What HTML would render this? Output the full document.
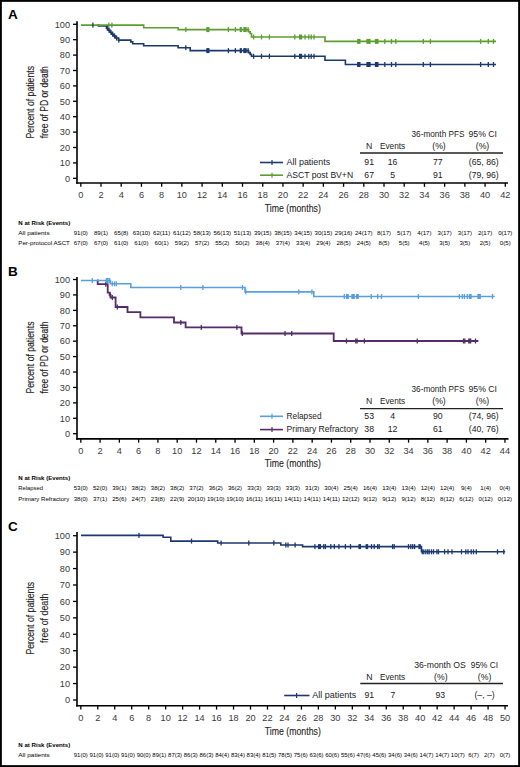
<!DOCTYPE html>
<html><head><meta charset="utf-8"><title>KM curves</title>
<style>
html,body{margin:0;padding:0;background:#fff;}
body{width:520px;height:767px;overflow:hidden;}
svg{display:block;font-family:"Liberation Sans", sans-serif;}
</style></head>
<body>
<svg width="520" height="767" viewBox="0 0 520 767">
<rect x="0" y="0" width="520" height="767" fill="#fff"/>
<text x="7.90" y="19.00" font-size="13.5" text-anchor="start" font-weight="bold" fill="#000">A</text>
<line x1="77.00" y1="21.20" x2="77.00" y2="183.80" stroke="#000" stroke-width="1.6"/>
<line x1="76.20" y1="183.00" x2="508.00" y2="183.00" stroke="#000" stroke-width="1.6"/>
<line x1="73.00" y1="178.30" x2="77.00" y2="178.30" stroke="#000" stroke-width="1.3"/>
<text x="70.00" y="181.60" font-size="9.2" text-anchor="end" fill="#3a3a3a">0</text>
<line x1="73.00" y1="162.90" x2="77.00" y2="162.90" stroke="#000" stroke-width="1.3"/>
<text x="70.00" y="166.20" font-size="9.2" text-anchor="end" fill="#3a3a3a">10</text>
<line x1="73.00" y1="147.50" x2="77.00" y2="147.50" stroke="#000" stroke-width="1.3"/>
<text x="70.00" y="150.80" font-size="9.2" text-anchor="end" fill="#3a3a3a">20</text>
<line x1="73.00" y1="132.10" x2="77.00" y2="132.10" stroke="#000" stroke-width="1.3"/>
<text x="70.00" y="135.40" font-size="9.2" text-anchor="end" fill="#3a3a3a">30</text>
<line x1="73.00" y1="116.70" x2="77.00" y2="116.70" stroke="#000" stroke-width="1.3"/>
<text x="70.00" y="120.00" font-size="9.2" text-anchor="end" fill="#3a3a3a">40</text>
<line x1="73.00" y1="101.30" x2="77.00" y2="101.30" stroke="#000" stroke-width="1.3"/>
<text x="70.00" y="104.60" font-size="9.2" text-anchor="end" fill="#3a3a3a">50</text>
<line x1="73.00" y1="85.90" x2="77.00" y2="85.90" stroke="#000" stroke-width="1.3"/>
<text x="70.00" y="89.20" font-size="9.2" text-anchor="end" fill="#3a3a3a">60</text>
<line x1="73.00" y1="70.50" x2="77.00" y2="70.50" stroke="#000" stroke-width="1.3"/>
<text x="70.00" y="73.80" font-size="9.2" text-anchor="end" fill="#3a3a3a">70</text>
<line x1="73.00" y1="55.10" x2="77.00" y2="55.10" stroke="#000" stroke-width="1.3"/>
<text x="70.00" y="58.40" font-size="9.2" text-anchor="end" fill="#3a3a3a">80</text>
<line x1="73.00" y1="39.70" x2="77.00" y2="39.70" stroke="#000" stroke-width="1.3"/>
<text x="70.00" y="43.00" font-size="9.2" text-anchor="end" fill="#3a3a3a">90</text>
<line x1="73.00" y1="24.30" x2="77.00" y2="24.30" stroke="#000" stroke-width="1.3"/>
<text x="70.00" y="27.60" font-size="9.2" text-anchor="end" fill="#3a3a3a">100</text>
<line x1="80.80" y1="183.00" x2="80.80" y2="186.80" stroke="#000" stroke-width="1.3"/>
<text x="80.80" y="198.20" font-size="9.2" text-anchor="middle" fill="#3a3a3a">0</text>
<line x1="101.01" y1="183.00" x2="101.01" y2="186.80" stroke="#000" stroke-width="1.3"/>
<text x="101.01" y="198.20" font-size="9.2" text-anchor="middle" fill="#3a3a3a">2</text>
<line x1="121.23" y1="183.00" x2="121.23" y2="186.80" stroke="#000" stroke-width="1.3"/>
<text x="121.23" y="198.20" font-size="9.2" text-anchor="middle" fill="#3a3a3a">4</text>
<line x1="141.44" y1="183.00" x2="141.44" y2="186.80" stroke="#000" stroke-width="1.3"/>
<text x="141.44" y="198.20" font-size="9.2" text-anchor="middle" fill="#3a3a3a">6</text>
<line x1="161.66" y1="183.00" x2="161.66" y2="186.80" stroke="#000" stroke-width="1.3"/>
<text x="161.66" y="198.20" font-size="9.2" text-anchor="middle" fill="#3a3a3a">8</text>
<line x1="181.87" y1="183.00" x2="181.87" y2="186.80" stroke="#000" stroke-width="1.3"/>
<text x="181.87" y="198.20" font-size="9.2" text-anchor="middle" fill="#3a3a3a">10</text>
<line x1="202.08" y1="183.00" x2="202.08" y2="186.80" stroke="#000" stroke-width="1.3"/>
<text x="202.08" y="198.20" font-size="9.2" text-anchor="middle" fill="#3a3a3a">12</text>
<line x1="222.30" y1="183.00" x2="222.30" y2="186.80" stroke="#000" stroke-width="1.3"/>
<text x="222.30" y="198.20" font-size="9.2" text-anchor="middle" fill="#3a3a3a">14</text>
<line x1="242.51" y1="183.00" x2="242.51" y2="186.80" stroke="#000" stroke-width="1.3"/>
<text x="242.51" y="198.20" font-size="9.2" text-anchor="middle" fill="#3a3a3a">16</text>
<line x1="262.73" y1="183.00" x2="262.73" y2="186.80" stroke="#000" stroke-width="1.3"/>
<text x="262.73" y="198.20" font-size="9.2" text-anchor="middle" fill="#3a3a3a">18</text>
<line x1="282.94" y1="183.00" x2="282.94" y2="186.80" stroke="#000" stroke-width="1.3"/>
<text x="282.94" y="198.20" font-size="9.2" text-anchor="middle" fill="#3a3a3a">20</text>
<line x1="303.15" y1="183.00" x2="303.15" y2="186.80" stroke="#000" stroke-width="1.3"/>
<text x="303.15" y="198.20" font-size="9.2" text-anchor="middle" fill="#3a3a3a">22</text>
<line x1="323.37" y1="183.00" x2="323.37" y2="186.80" stroke="#000" stroke-width="1.3"/>
<text x="323.37" y="198.20" font-size="9.2" text-anchor="middle" fill="#3a3a3a">24</text>
<line x1="343.58" y1="183.00" x2="343.58" y2="186.80" stroke="#000" stroke-width="1.3"/>
<text x="343.58" y="198.20" font-size="9.2" text-anchor="middle" fill="#3a3a3a">26</text>
<line x1="363.80" y1="183.00" x2="363.80" y2="186.80" stroke="#000" stroke-width="1.3"/>
<text x="363.80" y="198.20" font-size="9.2" text-anchor="middle" fill="#3a3a3a">28</text>
<line x1="384.01" y1="183.00" x2="384.01" y2="186.80" stroke="#000" stroke-width="1.3"/>
<text x="384.01" y="198.20" font-size="9.2" text-anchor="middle" fill="#3a3a3a">30</text>
<line x1="404.22" y1="183.00" x2="404.22" y2="186.80" stroke="#000" stroke-width="1.3"/>
<text x="404.22" y="198.20" font-size="9.2" text-anchor="middle" fill="#3a3a3a">32</text>
<line x1="424.44" y1="183.00" x2="424.44" y2="186.80" stroke="#000" stroke-width="1.3"/>
<text x="424.44" y="198.20" font-size="9.2" text-anchor="middle" fill="#3a3a3a">34</text>
<line x1="444.65" y1="183.00" x2="444.65" y2="186.80" stroke="#000" stroke-width="1.3"/>
<text x="444.65" y="198.20" font-size="9.2" text-anchor="middle" fill="#3a3a3a">36</text>
<line x1="464.87" y1="183.00" x2="464.87" y2="186.80" stroke="#000" stroke-width="1.3"/>
<text x="464.87" y="198.20" font-size="9.2" text-anchor="middle" fill="#3a3a3a">38</text>
<line x1="485.08" y1="183.00" x2="485.08" y2="186.80" stroke="#000" stroke-width="1.3"/>
<text x="485.08" y="198.20" font-size="9.2" text-anchor="middle" fill="#3a3a3a">40</text>
<line x1="505.29" y1="183.00" x2="505.29" y2="186.80" stroke="#000" stroke-width="1.3"/>
<text x="505.29" y="198.20" font-size="9.2" text-anchor="middle" fill="#3a3a3a">42</text>
<text x="292.80" y="212.40" font-size="10.7" text-anchor="middle" fill="#222" textLength="56" lengthAdjust="spacingAndGlyphs" stroke="#333" stroke-width="0.12">Time (months)</text>
<text transform="translate(34.4,102.2) rotate(-90)" font-size="11" text-anchor="middle" fill="#222" stroke="#222" stroke-width="0.12" textLength="72.5" lengthAdjust="spacingAndGlyphs">Percent of patients</text>
<text transform="translate(48,102.2) rotate(-90)" font-size="11" text-anchor="middle" fill="#222" stroke="#222" stroke-width="0.12" textLength="72.0" lengthAdjust="spacingAndGlyphs">free of PD or death</text>
<path d="M97.50,25.10 H98.50 V25.90 H106.50 V28.20 H108.20 V30.30 H110.00 V32.20 H111.80 V34.20 H113.60 V36.00 H115.60 V38.00 H118.40 V40.10 H130.80 V41.90 H132.70 V43.80 H143.70 V45.80 H178.10 V47.70 H190.20 V50.60 H248.60 V52.60 H250.20 V54.40 H251.50 V56.30 H325.00 V60.20 H345.40 V64.50 H496.00" fill="none" stroke="#1b386f" stroke-width="1.6" stroke-linejoin="miter" stroke-linecap="butt"/>
<path d="M81.00,25.10 H143.70 V27.80 H178.10 V29.60 H248.60 V31.70 H250.20 V33.50 H251.50 V37.00 H325.00 V41.40 H496.00" fill="none" stroke="#5c9e31" stroke-width="1.6" stroke-linejoin="miter" stroke-linecap="butt"/>
<rect x="92.25" y="22.60" width="1.30" height="5.00" fill="#1b386f"/>
<rect x="106.65" y="25.70" width="1.30" height="5.00" fill="#1b386f"/>
<rect x="108.45" y="27.80" width="1.30" height="5.00" fill="#1b386f"/>
<rect x="110.25" y="29.70" width="1.30" height="5.00" fill="#1b386f"/>
<rect x="112.05" y="31.70" width="1.30" height="5.00" fill="#1b386f"/>
<rect x="113.95" y="33.50" width="1.30" height="5.00" fill="#1b386f"/>
<rect x="115.95" y="35.50" width="1.30" height="5.00" fill="#1b386f"/>
<rect x="118.15" y="37.60" width="1.30" height="5.00" fill="#1b386f"/>
<rect x="185.15" y="45.20" width="1.30" height="5.00" fill="#1b386f"/>
<rect x="206.30" y="48.10" width="3.20" height="5.00" fill="#1b386f"/>
<rect x="227.75" y="48.10" width="1.30" height="5.00" fill="#1b386f"/>
<rect x="234.75" y="48.10" width="1.30" height="5.00" fill="#1b386f"/>
<rect x="239.70" y="48.10" width="2.20" height="5.00" fill="#1b386f"/>
<rect x="243.30" y="48.10" width="3.40" height="5.00" fill="#1b386f"/>
<rect x="247.45" y="48.10" width="1.30" height="5.00" fill="#1b386f"/>
<rect x="252.95" y="53.80" width="1.30" height="5.00" fill="#1b386f"/>
<rect x="260.85" y="53.80" width="1.30" height="5.00" fill="#1b386f"/>
<rect x="268.75" y="53.80" width="1.30" height="5.00" fill="#1b386f"/>
<rect x="294.15" y="53.80" width="1.30" height="5.00" fill="#1b386f"/>
<rect x="299.00" y="53.80" width="3.20" height="5.00" fill="#1b386f"/>
<rect x="304.35" y="53.80" width="1.30" height="5.00" fill="#1b386f"/>
<rect x="308.15" y="53.80" width="1.30" height="5.00" fill="#1b386f"/>
<rect x="310.55" y="53.80" width="1.30" height="5.00" fill="#1b386f"/>
<rect x="313.35" y="53.80" width="1.30" height="5.00" fill="#1b386f"/>
<rect x="357.10" y="62.00" width="3.40" height="5.00" fill="#1b386f"/>
<rect x="366.40" y="62.00" width="4.20" height="5.00" fill="#1b386f"/>
<rect x="374.90" y="62.00" width="3.60" height="5.00" fill="#1b386f"/>
<rect x="384.15" y="62.00" width="1.30" height="5.00" fill="#1b386f"/>
<rect x="390.85" y="62.00" width="1.30" height="5.00" fill="#1b386f"/>
<rect x="395.15" y="62.00" width="1.30" height="5.00" fill="#1b386f"/>
<rect x="422.65" y="62.00" width="1.30" height="5.00" fill="#1b386f"/>
<rect x="429.75" y="62.00" width="1.30" height="5.00" fill="#1b386f"/>
<rect x="479.95" y="62.00" width="1.30" height="5.00" fill="#1b386f"/>
<rect x="487.65" y="62.00" width="1.30" height="5.00" fill="#1b386f"/>
<rect x="492.85" y="62.00" width="1.30" height="5.00" fill="#1b386f"/>
<rect x="108.15" y="22.60" width="1.30" height="5.00" fill="#5c9e31"/>
<rect x="111.25" y="22.60" width="1.30" height="5.00" fill="#5c9e31"/>
<rect x="185.15" y="27.10" width="1.30" height="5.00" fill="#5c9e31"/>
<rect x="206.30" y="27.10" width="3.20" height="5.00" fill="#5c9e31"/>
<rect x="227.75" y="27.10" width="1.30" height="5.00" fill="#5c9e31"/>
<rect x="234.75" y="27.10" width="1.30" height="5.00" fill="#5c9e31"/>
<rect x="239.70" y="27.10" width="2.20" height="5.00" fill="#5c9e31"/>
<rect x="243.30" y="27.10" width="3.40" height="5.00" fill="#5c9e31"/>
<rect x="247.45" y="27.10" width="1.30" height="5.00" fill="#5c9e31"/>
<rect x="252.95" y="34.50" width="1.30" height="5.00" fill="#5c9e31"/>
<rect x="260.85" y="34.50" width="1.30" height="5.00" fill="#5c9e31"/>
<rect x="268.75" y="34.50" width="1.30" height="5.00" fill="#5c9e31"/>
<rect x="294.15" y="34.50" width="1.30" height="5.00" fill="#5c9e31"/>
<rect x="299.00" y="34.50" width="3.20" height="5.00" fill="#5c9e31"/>
<rect x="304.35" y="34.50" width="1.30" height="5.00" fill="#5c9e31"/>
<rect x="308.15" y="34.50" width="1.30" height="5.00" fill="#5c9e31"/>
<rect x="310.55" y="34.50" width="1.30" height="5.00" fill="#5c9e31"/>
<rect x="313.35" y="34.50" width="1.30" height="5.00" fill="#5c9e31"/>
<rect x="357.10" y="38.90" width="3.40" height="5.00" fill="#5c9e31"/>
<rect x="366.40" y="38.90" width="4.20" height="5.00" fill="#5c9e31"/>
<rect x="374.90" y="38.90" width="3.60" height="5.00" fill="#5c9e31"/>
<rect x="384.15" y="38.90" width="1.30" height="5.00" fill="#5c9e31"/>
<rect x="390.85" y="38.90" width="1.30" height="5.00" fill="#5c9e31"/>
<rect x="395.15" y="38.90" width="1.30" height="5.00" fill="#5c9e31"/>
<rect x="422.65" y="38.90" width="1.30" height="5.00" fill="#5c9e31"/>
<rect x="429.75" y="38.90" width="1.30" height="5.00" fill="#5c9e31"/>
<rect x="479.95" y="38.90" width="1.30" height="5.00" fill="#5c9e31"/>
<rect x="487.65" y="38.90" width="1.30" height="5.00" fill="#5c9e31"/>
<rect x="492.85" y="38.90" width="1.30" height="5.00" fill="#5c9e31"/>
<text x="411.50" y="136.50" font-size="8.7" text-anchor="start" fill="#222" textLength="53" lengthAdjust="spacingAndGlyphs">36-month PFS</text>
<text x="468.50" y="136.50" font-size="8.7" text-anchor="start" fill="#222" textLength="28.5" lengthAdjust="spacingAndGlyphs">95% CI</text>
<text x="369.20" y="148.70" font-size="8.7" text-anchor="middle" fill="#222">N</text>
<text x="392.60" y="148.70" font-size="8.7" text-anchor="middle" fill="#222" textLength="25.2" lengthAdjust="spacingAndGlyphs">Events</text>
<text x="439.00" y="148.70" font-size="8.7" text-anchor="middle" fill="#222">(%)</text>
<text x="482.50" y="148.70" font-size="8.7" text-anchor="middle" fill="#222">(%)</text>
<line x1="360.00" y1="153.00" x2="503.00" y2="153.00" stroke="#222" stroke-width="1.3"/>
<line x1="260.00" y1="162.50" x2="283.00" y2="162.50" stroke="#1b386f" stroke-width="1.6"/>
<line x1="272.00" y1="160.00" x2="272.00" y2="165.00" stroke="#1b386f" stroke-width="1.2"/>
<text x="286.60" y="165.30" font-size="8.7" text-anchor="start" fill="#222" textLength="43.5" lengthAdjust="spacingAndGlyphs">All patients</text>
<text x="369.20" y="165.30" font-size="8.7" text-anchor="middle" fill="#222">91</text>
<text x="392.60" y="165.30" font-size="8.7" text-anchor="middle" fill="#222">16</text>
<text x="437.80" y="165.30" font-size="8.7" text-anchor="middle" fill="#222">77</text>
<text x="483.80" y="165.30" font-size="8.7" text-anchor="middle" fill="#222">(65, 86)</text>
<line x1="260.00" y1="175.20" x2="283.00" y2="175.20" stroke="#5c9e31" stroke-width="1.6"/>
<line x1="272.00" y1="172.70" x2="272.00" y2="177.70" stroke="#5c9e31" stroke-width="1.2"/>
<text x="286.60" y="178.00" font-size="8.7" text-anchor="start" fill="#222" textLength="66.5" lengthAdjust="spacingAndGlyphs">ASCT post BV+N</text>
<text x="369.20" y="178.00" font-size="8.7" text-anchor="middle" fill="#222">67</text>
<text x="392.60" y="178.00" font-size="8.7" text-anchor="middle" fill="#222">5</text>
<text x="437.80" y="178.00" font-size="8.7" text-anchor="middle" fill="#222">91</text>
<text x="483.80" y="178.00" font-size="8.7" text-anchor="middle" fill="#222">(79, 96)</text>
<text x="18.30" y="224.70" font-size="6.1" text-anchor="start" font-weight="bold" fill="#000" textLength="52" lengthAdjust="spacingAndGlyphs">N at Risk (Events)</text>
<text x="18.30" y="234.80" font-size="6.1" text-anchor="start" fill="#000" textLength="31.3" lengthAdjust="spacingAndGlyphs">All patients</text>
<text x="80.80" y="234.80" font-size="6.1" text-anchor="middle" fill="#000">91(0)</text>
<text x="101.01" y="234.80" font-size="6.1" text-anchor="middle" fill="#000">89(1)</text>
<text x="121.23" y="234.80" font-size="6.1" text-anchor="middle" fill="#000">65(8)</text>
<text x="141.44" y="234.80" font-size="6.1" text-anchor="middle" fill="#000">63(10)</text>
<text x="161.66" y="234.80" font-size="6.1" text-anchor="middle" fill="#000">62(11)</text>
<text x="181.87" y="234.80" font-size="6.1" text-anchor="middle" fill="#000">61(12)</text>
<text x="202.08" y="234.80" font-size="6.1" text-anchor="middle" fill="#000">58(13)</text>
<text x="222.30" y="234.80" font-size="6.1" text-anchor="middle" fill="#000">56(13)</text>
<text x="242.51" y="234.80" font-size="6.1" text-anchor="middle" fill="#000">51(13)</text>
<text x="262.73" y="234.80" font-size="6.1" text-anchor="middle" fill="#000">39(15)</text>
<text x="282.94" y="234.80" font-size="6.1" text-anchor="middle" fill="#000">38(15)</text>
<text x="303.15" y="234.80" font-size="6.1" text-anchor="middle" fill="#000">34(15)</text>
<text x="323.37" y="234.80" font-size="6.1" text-anchor="middle" fill="#000">30(15)</text>
<text x="343.58" y="234.80" font-size="6.1" text-anchor="middle" fill="#000">29(16)</text>
<text x="363.80" y="234.80" font-size="6.1" text-anchor="middle" fill="#000">24(17)</text>
<text x="384.01" y="234.80" font-size="6.1" text-anchor="middle" fill="#000">8(17)</text>
<text x="404.22" y="234.80" font-size="6.1" text-anchor="middle" fill="#000">5(17)</text>
<text x="424.44" y="234.80" font-size="6.1" text-anchor="middle" fill="#000">4(17)</text>
<text x="444.65" y="234.80" font-size="6.1" text-anchor="middle" fill="#000">3(17)</text>
<text x="464.87" y="234.80" font-size="6.1" text-anchor="middle" fill="#000">3(17)</text>
<text x="485.08" y="234.80" font-size="6.1" text-anchor="middle" fill="#000">2(17)</text>
<text x="505.29" y="234.80" font-size="6.1" text-anchor="middle" fill="#000">0(17)</text>
<text x="18.30" y="244.90" font-size="6.1" text-anchor="start" fill="#000" textLength="51.6" lengthAdjust="spacingAndGlyphs">Per-protocol ASCT</text>
<text x="80.80" y="244.90" font-size="6.1" text-anchor="middle" fill="#000">67(0)</text>
<text x="101.01" y="244.90" font-size="6.1" text-anchor="middle" fill="#000">67(0)</text>
<text x="121.23" y="244.90" font-size="6.1" text-anchor="middle" fill="#000">61(0)</text>
<text x="141.44" y="244.90" font-size="6.1" text-anchor="middle" fill="#000">61(0)</text>
<text x="161.66" y="244.90" font-size="6.1" text-anchor="middle" fill="#000">60(1)</text>
<text x="181.87" y="244.90" font-size="6.1" text-anchor="middle" fill="#000">59(2)</text>
<text x="202.08" y="244.90" font-size="6.1" text-anchor="middle" fill="#000">57(2)</text>
<text x="222.30" y="244.90" font-size="6.1" text-anchor="middle" fill="#000">55(2)</text>
<text x="242.51" y="244.90" font-size="6.1" text-anchor="middle" fill="#000">50(2)</text>
<text x="262.73" y="244.90" font-size="6.1" text-anchor="middle" fill="#000">38(4)</text>
<text x="282.94" y="244.90" font-size="6.1" text-anchor="middle" fill="#000">37(4)</text>
<text x="303.15" y="244.90" font-size="6.1" text-anchor="middle" fill="#000">33(4)</text>
<text x="323.37" y="244.90" font-size="6.1" text-anchor="middle" fill="#000">29(4)</text>
<text x="343.58" y="244.90" font-size="6.1" text-anchor="middle" fill="#000">28(5)</text>
<text x="363.80" y="244.90" font-size="6.1" text-anchor="middle" fill="#000">24(5)</text>
<text x="384.01" y="244.90" font-size="6.1" text-anchor="middle" fill="#000">8(5)</text>
<text x="404.22" y="244.90" font-size="6.1" text-anchor="middle" fill="#000">5(5)</text>
<text x="424.44" y="244.90" font-size="6.1" text-anchor="middle" fill="#000">4(5)</text>
<text x="444.65" y="244.90" font-size="6.1" text-anchor="middle" fill="#000">3(5)</text>
<text x="464.87" y="244.90" font-size="6.1" text-anchor="middle" fill="#000">3(5)</text>
<text x="485.08" y="244.90" font-size="6.1" text-anchor="middle" fill="#000">2(5)</text>
<text x="505.29" y="244.90" font-size="6.1" text-anchor="middle" fill="#000">0(5)</text>
<text x="8.00" y="275.60" font-size="13.5" text-anchor="start" font-weight="bold" fill="#000">B</text>
<line x1="77.00" y1="277.00" x2="77.00" y2="439.70" stroke="#000" stroke-width="1.6"/>
<line x1="76.20" y1="438.90" x2="508.50" y2="438.90" stroke="#000" stroke-width="1.6"/>
<line x1="73.00" y1="433.70" x2="77.00" y2="433.70" stroke="#000" stroke-width="1.3"/>
<text x="70.00" y="437.00" font-size="9.2" text-anchor="end" fill="#3a3a3a">0</text>
<line x1="73.00" y1="418.28" x2="77.00" y2="418.28" stroke="#000" stroke-width="1.3"/>
<text x="70.00" y="421.58" font-size="9.2" text-anchor="end" fill="#3a3a3a">10</text>
<line x1="73.00" y1="402.86" x2="77.00" y2="402.86" stroke="#000" stroke-width="1.3"/>
<text x="70.00" y="406.16" font-size="9.2" text-anchor="end" fill="#3a3a3a">20</text>
<line x1="73.00" y1="387.44" x2="77.00" y2="387.44" stroke="#000" stroke-width="1.3"/>
<text x="70.00" y="390.74" font-size="9.2" text-anchor="end" fill="#3a3a3a">30</text>
<line x1="73.00" y1="372.02" x2="77.00" y2="372.02" stroke="#000" stroke-width="1.3"/>
<text x="70.00" y="375.32" font-size="9.2" text-anchor="end" fill="#3a3a3a">40</text>
<line x1="73.00" y1="356.60" x2="77.00" y2="356.60" stroke="#000" stroke-width="1.3"/>
<text x="70.00" y="359.90" font-size="9.2" text-anchor="end" fill="#3a3a3a">50</text>
<line x1="73.00" y1="341.18" x2="77.00" y2="341.18" stroke="#000" stroke-width="1.3"/>
<text x="70.00" y="344.48" font-size="9.2" text-anchor="end" fill="#3a3a3a">60</text>
<line x1="73.00" y1="325.76" x2="77.00" y2="325.76" stroke="#000" stroke-width="1.3"/>
<text x="70.00" y="329.06" font-size="9.2" text-anchor="end" fill="#3a3a3a">70</text>
<line x1="73.00" y1="310.34" x2="77.00" y2="310.34" stroke="#000" stroke-width="1.3"/>
<text x="70.00" y="313.64" font-size="9.2" text-anchor="end" fill="#3a3a3a">80</text>
<line x1="73.00" y1="294.92" x2="77.00" y2="294.92" stroke="#000" stroke-width="1.3"/>
<text x="70.00" y="298.22" font-size="9.2" text-anchor="end" fill="#3a3a3a">90</text>
<line x1="73.00" y1="279.50" x2="77.00" y2="279.50" stroke="#000" stroke-width="1.3"/>
<text x="70.00" y="282.80" font-size="9.2" text-anchor="end" fill="#3a3a3a">100</text>
<line x1="80.80" y1="438.90" x2="80.80" y2="442.70" stroke="#000" stroke-width="1.3"/>
<text x="80.80" y="453.70" font-size="9.2" text-anchor="middle" fill="#3a3a3a">0</text>
<line x1="100.08" y1="438.90" x2="100.08" y2="442.70" stroke="#000" stroke-width="1.3"/>
<text x="100.08" y="453.70" font-size="9.2" text-anchor="middle" fill="#3a3a3a">2</text>
<line x1="119.36" y1="438.90" x2="119.36" y2="442.70" stroke="#000" stroke-width="1.3"/>
<text x="119.36" y="453.70" font-size="9.2" text-anchor="middle" fill="#3a3a3a">4</text>
<line x1="138.64" y1="438.90" x2="138.64" y2="442.70" stroke="#000" stroke-width="1.3"/>
<text x="138.64" y="453.70" font-size="9.2" text-anchor="middle" fill="#3a3a3a">6</text>
<line x1="157.92" y1="438.90" x2="157.92" y2="442.70" stroke="#000" stroke-width="1.3"/>
<text x="157.92" y="453.70" font-size="9.2" text-anchor="middle" fill="#3a3a3a">8</text>
<line x1="177.20" y1="438.90" x2="177.20" y2="442.70" stroke="#000" stroke-width="1.3"/>
<text x="177.20" y="453.70" font-size="9.2" text-anchor="middle" fill="#3a3a3a">10</text>
<line x1="196.48" y1="438.90" x2="196.48" y2="442.70" stroke="#000" stroke-width="1.3"/>
<text x="196.48" y="453.70" font-size="9.2" text-anchor="middle" fill="#3a3a3a">12</text>
<line x1="215.76" y1="438.90" x2="215.76" y2="442.70" stroke="#000" stroke-width="1.3"/>
<text x="215.76" y="453.70" font-size="9.2" text-anchor="middle" fill="#3a3a3a">14</text>
<line x1="235.04" y1="438.90" x2="235.04" y2="442.70" stroke="#000" stroke-width="1.3"/>
<text x="235.04" y="453.70" font-size="9.2" text-anchor="middle" fill="#3a3a3a">16</text>
<line x1="254.32" y1="438.90" x2="254.32" y2="442.70" stroke="#000" stroke-width="1.3"/>
<text x="254.32" y="453.70" font-size="9.2" text-anchor="middle" fill="#3a3a3a">18</text>
<line x1="273.60" y1="438.90" x2="273.60" y2="442.70" stroke="#000" stroke-width="1.3"/>
<text x="273.60" y="453.70" font-size="9.2" text-anchor="middle" fill="#3a3a3a">20</text>
<line x1="292.88" y1="438.90" x2="292.88" y2="442.70" stroke="#000" stroke-width="1.3"/>
<text x="292.88" y="453.70" font-size="9.2" text-anchor="middle" fill="#3a3a3a">22</text>
<line x1="312.16" y1="438.90" x2="312.16" y2="442.70" stroke="#000" stroke-width="1.3"/>
<text x="312.16" y="453.70" font-size="9.2" text-anchor="middle" fill="#3a3a3a">24</text>
<line x1="331.44" y1="438.90" x2="331.44" y2="442.70" stroke="#000" stroke-width="1.3"/>
<text x="331.44" y="453.70" font-size="9.2" text-anchor="middle" fill="#3a3a3a">26</text>
<line x1="350.72" y1="438.90" x2="350.72" y2="442.70" stroke="#000" stroke-width="1.3"/>
<text x="350.72" y="453.70" font-size="9.2" text-anchor="middle" fill="#3a3a3a">28</text>
<line x1="370.00" y1="438.90" x2="370.00" y2="442.70" stroke="#000" stroke-width="1.3"/>
<text x="370.00" y="453.70" font-size="9.2" text-anchor="middle" fill="#3a3a3a">30</text>
<line x1="389.28" y1="438.90" x2="389.28" y2="442.70" stroke="#000" stroke-width="1.3"/>
<text x="389.28" y="453.70" font-size="9.2" text-anchor="middle" fill="#3a3a3a">32</text>
<line x1="408.56" y1="438.90" x2="408.56" y2="442.70" stroke="#000" stroke-width="1.3"/>
<text x="408.56" y="453.70" font-size="9.2" text-anchor="middle" fill="#3a3a3a">34</text>
<line x1="427.84" y1="438.90" x2="427.84" y2="442.70" stroke="#000" stroke-width="1.3"/>
<text x="427.84" y="453.70" font-size="9.2" text-anchor="middle" fill="#3a3a3a">36</text>
<line x1="447.12" y1="438.90" x2="447.12" y2="442.70" stroke="#000" stroke-width="1.3"/>
<text x="447.12" y="453.70" font-size="9.2" text-anchor="middle" fill="#3a3a3a">38</text>
<line x1="466.40" y1="438.90" x2="466.40" y2="442.70" stroke="#000" stroke-width="1.3"/>
<text x="466.40" y="453.70" font-size="9.2" text-anchor="middle" fill="#3a3a3a">40</text>
<line x1="485.68" y1="438.90" x2="485.68" y2="442.70" stroke="#000" stroke-width="1.3"/>
<text x="485.68" y="453.70" font-size="9.2" text-anchor="middle" fill="#3a3a3a">42</text>
<line x1="504.96" y1="438.90" x2="504.96" y2="442.70" stroke="#000" stroke-width="1.3"/>
<text x="504.96" y="453.70" font-size="9.2" text-anchor="middle" fill="#3a3a3a">44</text>
<text x="292.80" y="466.90" font-size="10.7" text-anchor="middle" fill="#222" textLength="56" lengthAdjust="spacingAndGlyphs" stroke="#333" stroke-width="0.12">Time (months)</text>
<text transform="translate(34.4,357.5) rotate(-90)" font-size="11" text-anchor="middle" fill="#222" stroke="#222" stroke-width="0.12" textLength="72.0" lengthAdjust="spacingAndGlyphs">Percent of patients</text>
<text transform="translate(48,357.5) rotate(-90)" font-size="11" text-anchor="middle" fill="#222" stroke="#222" stroke-width="0.12" textLength="71.8" lengthAdjust="spacingAndGlyphs">free of PD or death</text>
<path d="M97.00,280.50 H97.70 V284.20 H107.70 V292.60 H109.60 V294.80 H110.60 V297.50 H115.60 V307.00 H127.50 V312.20 H140.40 V317.30 H174.00 V322.50 H185.60 V327.40 H241.50 V333.50 H333.70 V341.00 H478.40" fill="none" stroke="#562b68" stroke-width="1.8" stroke-linejoin="miter" stroke-linecap="butt"/>
<path d="M81.00,280.50 H110.40 V283.80 H130.80 V287.50 H245.00 V291.90 H313.80 V296.50 H494.70" fill="none" stroke="#58a0dc" stroke-width="1.6" stroke-linejoin="miter" stroke-linecap="butt"/>
<rect x="105.15" y="281.70" width="1.30" height="5.00" fill="#562b68"/>
<rect x="109.55" y="292.30" width="1.30" height="5.00" fill="#562b68"/>
<rect x="111.65" y="295.00" width="1.30" height="5.00" fill="#562b68"/>
<rect x="116.65" y="304.50" width="1.30" height="5.00" fill="#562b68"/>
<rect x="180.15" y="320.00" width="1.30" height="5.00" fill="#562b68"/>
<rect x="200.65" y="324.90" width="1.30" height="5.00" fill="#562b68"/>
<rect x="236.25" y="324.90" width="1.30" height="5.00" fill="#562b68"/>
<rect x="241.65" y="331.00" width="1.30" height="5.00" fill="#562b68"/>
<rect x="284.35" y="331.00" width="1.30" height="5.00" fill="#562b68"/>
<rect x="291.05" y="331.00" width="1.30" height="5.00" fill="#562b68"/>
<rect x="345.85" y="338.50" width="1.30" height="5.00" fill="#562b68"/>
<rect x="355.15" y="338.50" width="1.30" height="5.00" fill="#562b68"/>
<rect x="356.45" y="338.50" width="1.30" height="5.00" fill="#562b68"/>
<rect x="363.75" y="338.50" width="1.30" height="5.00" fill="#562b68"/>
<rect x="416.65" y="338.50" width="1.30" height="5.00" fill="#562b68"/>
<rect x="462.85" y="338.50" width="1.30" height="5.00" fill="#562b68"/>
<rect x="464.15" y="338.50" width="1.30" height="5.00" fill="#562b68"/>
<rect x="468.10" y="338.50" width="3.20" height="5.00" fill="#562b68"/>
<rect x="474.85" y="338.50" width="1.30" height="5.00" fill="#562b68"/>
<rect x="91.65" y="278.00" width="1.30" height="5.00" fill="#58a0dc"/>
<rect x="105.75" y="278.00" width="2.50" height="5.00" fill="#58a0dc"/>
<rect x="108.40" y="278.00" width="1.80" height="5.00" fill="#58a0dc"/>
<rect x="111.65" y="281.30" width="1.30" height="5.00" fill="#58a0dc"/>
<rect x="113.85" y="281.30" width="1.30" height="5.00" fill="#58a0dc"/>
<rect x="115.65" y="281.30" width="1.30" height="5.00" fill="#58a0dc"/>
<rect x="180.15" y="285.00" width="1.30" height="5.00" fill="#58a0dc"/>
<rect x="202.25" y="285.00" width="1.30" height="5.00" fill="#58a0dc"/>
<rect x="241.85" y="285.00" width="1.30" height="5.00" fill="#58a0dc"/>
<rect x="245.15" y="289.40" width="1.30" height="5.00" fill="#58a0dc"/>
<rect x="298.15" y="289.40" width="1.30" height="5.00" fill="#58a0dc"/>
<rect x="311.25" y="289.40" width="1.30" height="5.00" fill="#58a0dc"/>
<rect x="343.65" y="294.00" width="1.30" height="5.00" fill="#58a0dc"/>
<rect x="345.95" y="294.00" width="2.90" height="5.00" fill="#58a0dc"/>
<rect x="351.30" y="294.00" width="3.60" height="5.00" fill="#58a0dc"/>
<rect x="356.05" y="294.00" width="2.70" height="5.00" fill="#58a0dc"/>
<rect x="370.55" y="294.00" width="1.30" height="5.00" fill="#58a0dc"/>
<rect x="377.05" y="294.00" width="1.30" height="5.00" fill="#58a0dc"/>
<rect x="380.85" y="294.00" width="1.30" height="5.00" fill="#58a0dc"/>
<rect x="417.65" y="294.00" width="1.30" height="5.00" fill="#58a0dc"/>
<rect x="458.75" y="294.00" width="1.30" height="5.00" fill="#58a0dc"/>
<rect x="461.65" y="294.00" width="1.30" height="5.00" fill="#58a0dc"/>
<rect x="463.75" y="294.00" width="1.30" height="5.00" fill="#58a0dc"/>
<rect x="466.65" y="294.00" width="1.30" height="5.00" fill="#58a0dc"/>
<rect x="468.75" y="294.00" width="2.90" height="5.00" fill="#58a0dc"/>
<rect x="477.30" y="294.00" width="3.60" height="5.00" fill="#58a0dc"/>
<rect x="491.85" y="294.00" width="1.30" height="5.00" fill="#58a0dc"/>
<text x="411.50" y="392.10" font-size="8.7" text-anchor="start" fill="#222" textLength="53" lengthAdjust="spacingAndGlyphs">36-month PFS</text>
<text x="468.50" y="392.10" font-size="8.7" text-anchor="start" fill="#222" textLength="28.5" lengthAdjust="spacingAndGlyphs">95% CI</text>
<text x="369.20" y="404.30" font-size="8.7" text-anchor="middle" fill="#222">N</text>
<text x="392.60" y="404.30" font-size="8.7" text-anchor="middle" fill="#222" textLength="25.2" lengthAdjust="spacingAndGlyphs">Events</text>
<text x="439.00" y="404.30" font-size="8.7" text-anchor="middle" fill="#222">(%)</text>
<text x="482.50" y="404.30" font-size="8.7" text-anchor="middle" fill="#222">(%)</text>
<line x1="360.00" y1="408.60" x2="503.00" y2="408.60" stroke="#222" stroke-width="1.3"/>
<line x1="260.00" y1="416.30" x2="283.00" y2="416.30" stroke="#58a0dc" stroke-width="1.6"/>
<line x1="272.00" y1="413.80" x2="272.00" y2="418.80" stroke="#58a0dc" stroke-width="1.2"/>
<text x="286.60" y="419.10" font-size="8.7" text-anchor="start" fill="#222" textLength="34.9" lengthAdjust="spacingAndGlyphs">Relapsed</text>
<text x="369.20" y="419.10" font-size="8.7" text-anchor="middle" fill="#222">53</text>
<text x="392.60" y="419.10" font-size="8.7" text-anchor="middle" fill="#222">4</text>
<text x="437.80" y="419.10" font-size="8.7" text-anchor="middle" fill="#222">90</text>
<text x="483.80" y="419.10" font-size="8.7" text-anchor="middle" fill="#222">(74, 96)</text>
<line x1="260.00" y1="429.60" x2="283.00" y2="429.60" stroke="#562b68" stroke-width="1.6"/>
<line x1="272.00" y1="427.10" x2="272.00" y2="432.10" stroke="#562b68" stroke-width="1.2"/>
<text x="286.60" y="432.40" font-size="8.7" text-anchor="start" fill="#222" textLength="71.6" lengthAdjust="spacingAndGlyphs">Primary Refractory</text>
<text x="369.20" y="432.40" font-size="8.7" text-anchor="middle" fill="#222">38</text>
<text x="392.60" y="432.40" font-size="8.7" text-anchor="middle" fill="#222">12</text>
<text x="437.80" y="432.40" font-size="8.7" text-anchor="middle" fill="#222">61</text>
<text x="483.80" y="432.40" font-size="8.7" text-anchor="middle" fill="#222">(40, 76)</text>
<text x="18.30" y="480.30" font-size="6.1" text-anchor="start" font-weight="bold" fill="#000" textLength="52" lengthAdjust="spacingAndGlyphs">N at Risk (Events)</text>
<text x="18.30" y="490.40" font-size="6.1" text-anchor="start" fill="#000" textLength="24.6" lengthAdjust="spacingAndGlyphs">Relapsed</text>
<text x="80.80" y="490.40" font-size="6.1" text-anchor="middle" fill="#000">53(0)</text>
<text x="100.08" y="490.40" font-size="6.1" text-anchor="middle" fill="#000">52(0)</text>
<text x="119.36" y="490.40" font-size="6.1" text-anchor="middle" fill="#000">39(1)</text>
<text x="138.64" y="490.40" font-size="6.1" text-anchor="middle" fill="#000">38(2)</text>
<text x="157.92" y="490.40" font-size="6.1" text-anchor="middle" fill="#000">38(2)</text>
<text x="177.20" y="490.40" font-size="6.1" text-anchor="middle" fill="#000">38(2)</text>
<text x="196.48" y="490.40" font-size="6.1" text-anchor="middle" fill="#000">37(2)</text>
<text x="215.76" y="490.40" font-size="6.1" text-anchor="middle" fill="#000">36(2)</text>
<text x="235.04" y="490.40" font-size="6.1" text-anchor="middle" fill="#000">36(2)</text>
<text x="254.32" y="490.40" font-size="6.1" text-anchor="middle" fill="#000">33(3)</text>
<text x="273.60" y="490.40" font-size="6.1" text-anchor="middle" fill="#000">33(3)</text>
<text x="292.88" y="490.40" font-size="6.1" text-anchor="middle" fill="#000">33(3)</text>
<text x="312.16" y="490.40" font-size="6.1" text-anchor="middle" fill="#000">31(3)</text>
<text x="331.44" y="490.40" font-size="6.1" text-anchor="middle" fill="#000">30(4)</text>
<text x="350.72" y="490.40" font-size="6.1" text-anchor="middle" fill="#000">25(4)</text>
<text x="370.00" y="490.40" font-size="6.1" text-anchor="middle" fill="#000">16(4)</text>
<text x="389.28" y="490.40" font-size="6.1" text-anchor="middle" fill="#000">13(4)</text>
<text x="408.56" y="490.40" font-size="6.1" text-anchor="middle" fill="#000">13(4)</text>
<text x="427.84" y="490.40" font-size="6.1" text-anchor="middle" fill="#000">12(4)</text>
<text x="447.12" y="490.40" font-size="6.1" text-anchor="middle" fill="#000">12(4)</text>
<text x="466.40" y="490.40" font-size="6.1" text-anchor="middle" fill="#000">9(4)</text>
<text x="485.68" y="490.40" font-size="6.1" text-anchor="middle" fill="#000">1(4)</text>
<text x="504.96" y="490.40" font-size="6.1" text-anchor="middle" fill="#000">0(4)</text>
<text x="18.30" y="500.50" font-size="6.1" text-anchor="start" fill="#000" textLength="50.9" lengthAdjust="spacingAndGlyphs">Primary Refractory</text>
<text x="80.80" y="500.50" font-size="6.1" text-anchor="middle" fill="#000">38(0)</text>
<text x="100.08" y="500.50" font-size="6.1" text-anchor="middle" fill="#000">37(1)</text>
<text x="119.36" y="500.50" font-size="6.1" text-anchor="middle" fill="#000">25(6)</text>
<text x="138.64" y="500.50" font-size="6.1" text-anchor="middle" fill="#000">24(7)</text>
<text x="157.92" y="500.50" font-size="6.1" text-anchor="middle" fill="#000">23(8)</text>
<text x="177.20" y="500.50" font-size="6.1" text-anchor="middle" fill="#000">22(9)</text>
<text x="196.48" y="500.50" font-size="6.1" text-anchor="middle" fill="#000">20(10)</text>
<text x="215.76" y="500.50" font-size="6.1" text-anchor="middle" fill="#000">19(10)</text>
<text x="235.04" y="500.50" font-size="6.1" text-anchor="middle" fill="#000">19(10)</text>
<text x="254.32" y="500.50" font-size="6.1" text-anchor="middle" fill="#000">16(11)</text>
<text x="273.60" y="500.50" font-size="6.1" text-anchor="middle" fill="#000">16(11)</text>
<text x="292.88" y="500.50" font-size="6.1" text-anchor="middle" fill="#000">14(11)</text>
<text x="312.16" y="500.50" font-size="6.1" text-anchor="middle" fill="#000">14(11)</text>
<text x="331.44" y="500.50" font-size="6.1" text-anchor="middle" fill="#000">14(11)</text>
<text x="350.72" y="500.50" font-size="6.1" text-anchor="middle" fill="#000">12(12)</text>
<text x="370.00" y="500.50" font-size="6.1" text-anchor="middle" fill="#000">9(12)</text>
<text x="389.28" y="500.50" font-size="6.1" text-anchor="middle" fill="#000">9(12)</text>
<text x="408.56" y="500.50" font-size="6.1" text-anchor="middle" fill="#000">9(12)</text>
<text x="427.84" y="500.50" font-size="6.1" text-anchor="middle" fill="#000">8(12)</text>
<text x="447.12" y="500.50" font-size="6.1" text-anchor="middle" fill="#000">8(12)</text>
<text x="466.40" y="500.50" font-size="6.1" text-anchor="middle" fill="#000">6(12)</text>
<text x="485.68" y="500.50" font-size="6.1" text-anchor="middle" fill="#000">0(12)</text>
<text x="504.96" y="500.50" font-size="6.1" text-anchor="middle" fill="#000">0(12)</text>
<text x="8.00" y="531.30" font-size="13.5" text-anchor="start" font-weight="bold" fill="#000">C</text>
<line x1="77.00" y1="532.00" x2="77.00" y2="706.60" stroke="#000" stroke-width="1.6"/>
<line x1="76.20" y1="705.80" x2="508.00" y2="705.80" stroke="#000" stroke-width="1.6"/>
<line x1="73.00" y1="700.00" x2="77.00" y2="700.00" stroke="#000" stroke-width="1.3"/>
<text x="70.00" y="703.30" font-size="9.2" text-anchor="end" fill="#3a3a3a">0</text>
<line x1="73.00" y1="683.57" x2="77.00" y2="683.57" stroke="#000" stroke-width="1.3"/>
<text x="70.00" y="686.87" font-size="9.2" text-anchor="end" fill="#3a3a3a">10</text>
<line x1="73.00" y1="667.14" x2="77.00" y2="667.14" stroke="#000" stroke-width="1.3"/>
<text x="70.00" y="670.44" font-size="9.2" text-anchor="end" fill="#3a3a3a">20</text>
<line x1="73.00" y1="650.71" x2="77.00" y2="650.71" stroke="#000" stroke-width="1.3"/>
<text x="70.00" y="654.01" font-size="9.2" text-anchor="end" fill="#3a3a3a">30</text>
<line x1="73.00" y1="634.28" x2="77.00" y2="634.28" stroke="#000" stroke-width="1.3"/>
<text x="70.00" y="637.58" font-size="9.2" text-anchor="end" fill="#3a3a3a">40</text>
<line x1="73.00" y1="617.85" x2="77.00" y2="617.85" stroke="#000" stroke-width="1.3"/>
<text x="70.00" y="621.15" font-size="9.2" text-anchor="end" fill="#3a3a3a">50</text>
<line x1="73.00" y1="601.42" x2="77.00" y2="601.42" stroke="#000" stroke-width="1.3"/>
<text x="70.00" y="604.72" font-size="9.2" text-anchor="end" fill="#3a3a3a">60</text>
<line x1="73.00" y1="584.99" x2="77.00" y2="584.99" stroke="#000" stroke-width="1.3"/>
<text x="70.00" y="588.29" font-size="9.2" text-anchor="end" fill="#3a3a3a">70</text>
<line x1="73.00" y1="568.56" x2="77.00" y2="568.56" stroke="#000" stroke-width="1.3"/>
<text x="70.00" y="571.86" font-size="9.2" text-anchor="end" fill="#3a3a3a">80</text>
<line x1="73.00" y1="552.13" x2="77.00" y2="552.13" stroke="#000" stroke-width="1.3"/>
<text x="70.00" y="555.43" font-size="9.2" text-anchor="end" fill="#3a3a3a">90</text>
<line x1="73.00" y1="535.70" x2="77.00" y2="535.70" stroke="#000" stroke-width="1.3"/>
<text x="70.00" y="539.00" font-size="9.2" text-anchor="end" fill="#3a3a3a">100</text>
<line x1="80.80" y1="705.80" x2="80.80" y2="709.60" stroke="#000" stroke-width="1.3"/>
<text x="80.80" y="720.60" font-size="9.2" text-anchor="middle" fill="#3a3a3a">0</text>
<line x1="97.77" y1="705.80" x2="97.77" y2="709.60" stroke="#000" stroke-width="1.3"/>
<text x="97.77" y="720.60" font-size="9.2" text-anchor="middle" fill="#3a3a3a">2</text>
<line x1="114.74" y1="705.80" x2="114.74" y2="709.60" stroke="#000" stroke-width="1.3"/>
<text x="114.74" y="720.60" font-size="9.2" text-anchor="middle" fill="#3a3a3a">4</text>
<line x1="131.71" y1="705.80" x2="131.71" y2="709.60" stroke="#000" stroke-width="1.3"/>
<text x="131.71" y="720.60" font-size="9.2" text-anchor="middle" fill="#3a3a3a">6</text>
<line x1="148.68" y1="705.80" x2="148.68" y2="709.60" stroke="#000" stroke-width="1.3"/>
<text x="148.68" y="720.60" font-size="9.2" text-anchor="middle" fill="#3a3a3a">8</text>
<line x1="165.65" y1="705.80" x2="165.65" y2="709.60" stroke="#000" stroke-width="1.3"/>
<text x="165.65" y="720.60" font-size="9.2" text-anchor="middle" fill="#3a3a3a">10</text>
<line x1="182.62" y1="705.80" x2="182.62" y2="709.60" stroke="#000" stroke-width="1.3"/>
<text x="182.62" y="720.60" font-size="9.2" text-anchor="middle" fill="#3a3a3a">12</text>
<line x1="199.59" y1="705.80" x2="199.59" y2="709.60" stroke="#000" stroke-width="1.3"/>
<text x="199.59" y="720.60" font-size="9.2" text-anchor="middle" fill="#3a3a3a">14</text>
<line x1="216.56" y1="705.80" x2="216.56" y2="709.60" stroke="#000" stroke-width="1.3"/>
<text x="216.56" y="720.60" font-size="9.2" text-anchor="middle" fill="#3a3a3a">16</text>
<line x1="233.53" y1="705.80" x2="233.53" y2="709.60" stroke="#000" stroke-width="1.3"/>
<text x="233.53" y="720.60" font-size="9.2" text-anchor="middle" fill="#3a3a3a">18</text>
<line x1="250.50" y1="705.80" x2="250.50" y2="709.60" stroke="#000" stroke-width="1.3"/>
<text x="250.50" y="720.60" font-size="9.2" text-anchor="middle" fill="#3a3a3a">20</text>
<line x1="267.47" y1="705.80" x2="267.47" y2="709.60" stroke="#000" stroke-width="1.3"/>
<text x="267.47" y="720.60" font-size="9.2" text-anchor="middle" fill="#3a3a3a">22</text>
<line x1="284.44" y1="705.80" x2="284.44" y2="709.60" stroke="#000" stroke-width="1.3"/>
<text x="284.44" y="720.60" font-size="9.2" text-anchor="middle" fill="#3a3a3a">24</text>
<line x1="301.41" y1="705.80" x2="301.41" y2="709.60" stroke="#000" stroke-width="1.3"/>
<text x="301.41" y="720.60" font-size="9.2" text-anchor="middle" fill="#3a3a3a">26</text>
<line x1="318.38" y1="705.80" x2="318.38" y2="709.60" stroke="#000" stroke-width="1.3"/>
<text x="318.38" y="720.60" font-size="9.2" text-anchor="middle" fill="#3a3a3a">28</text>
<line x1="335.35" y1="705.80" x2="335.35" y2="709.60" stroke="#000" stroke-width="1.3"/>
<text x="335.35" y="720.60" font-size="9.2" text-anchor="middle" fill="#3a3a3a">30</text>
<line x1="352.32" y1="705.80" x2="352.32" y2="709.60" stroke="#000" stroke-width="1.3"/>
<text x="352.32" y="720.60" font-size="9.2" text-anchor="middle" fill="#3a3a3a">32</text>
<line x1="369.29" y1="705.80" x2="369.29" y2="709.60" stroke="#000" stroke-width="1.3"/>
<text x="369.29" y="720.60" font-size="9.2" text-anchor="middle" fill="#3a3a3a">34</text>
<line x1="386.26" y1="705.80" x2="386.26" y2="709.60" stroke="#000" stroke-width="1.3"/>
<text x="386.26" y="720.60" font-size="9.2" text-anchor="middle" fill="#3a3a3a">36</text>
<line x1="403.23" y1="705.80" x2="403.23" y2="709.60" stroke="#000" stroke-width="1.3"/>
<text x="403.23" y="720.60" font-size="9.2" text-anchor="middle" fill="#3a3a3a">38</text>
<line x1="420.20" y1="705.80" x2="420.20" y2="709.60" stroke="#000" stroke-width="1.3"/>
<text x="420.20" y="720.60" font-size="9.2" text-anchor="middle" fill="#3a3a3a">40</text>
<line x1="437.17" y1="705.80" x2="437.17" y2="709.60" stroke="#000" stroke-width="1.3"/>
<text x="437.17" y="720.60" font-size="9.2" text-anchor="middle" fill="#3a3a3a">42</text>
<line x1="454.14" y1="705.80" x2="454.14" y2="709.60" stroke="#000" stroke-width="1.3"/>
<text x="454.14" y="720.60" font-size="9.2" text-anchor="middle" fill="#3a3a3a">44</text>
<line x1="471.11" y1="705.80" x2="471.11" y2="709.60" stroke="#000" stroke-width="1.3"/>
<text x="471.11" y="720.60" font-size="9.2" text-anchor="middle" fill="#3a3a3a">46</text>
<line x1="488.08" y1="705.80" x2="488.08" y2="709.60" stroke="#000" stroke-width="1.3"/>
<text x="488.08" y="720.60" font-size="9.2" text-anchor="middle" fill="#3a3a3a">48</text>
<line x1="505.05" y1="705.80" x2="505.05" y2="709.60" stroke="#000" stroke-width="1.3"/>
<text x="505.05" y="720.60" font-size="9.2" text-anchor="middle" fill="#3a3a3a">50</text>
<text x="292.80" y="734.70" font-size="10.7" text-anchor="middle" fill="#222" textLength="56" lengthAdjust="spacingAndGlyphs" stroke="#333" stroke-width="0.12">Time (months)</text>
<text transform="translate(34.4,618.2) rotate(-90)" font-size="11" text-anchor="middle" fill="#222" stroke="#222" stroke-width="0.12" textLength="72.8" lengthAdjust="spacingAndGlyphs">Percent of patients</text>
<text transform="translate(48,618.2) rotate(-90)" font-size="11" text-anchor="middle" fill="#222" stroke="#222" stroke-width="0.12" textLength="49.4" lengthAdjust="spacingAndGlyphs">free of death</text>
<path d="M81.00,535.40 H163.10 V537.20 H170.80 V541.10 H217.70 V543.00 H280.80 V545.00 H302.60 V546.60 H421.50 V551.80 H505.20" fill="none" stroke="#1b386f" stroke-width="1.6" stroke-linejoin="miter" stroke-linecap="butt"/>
<rect x="138.35" y="532.90" width="1.30" height="5.00" fill="#1b386f"/>
<rect x="190.85" y="538.60" width="1.30" height="5.00" fill="#1b386f"/>
<rect x="220.45" y="540.50" width="1.30" height="5.00" fill="#1b386f"/>
<rect x="248.15" y="540.50" width="1.30" height="5.00" fill="#1b386f"/>
<rect x="273.15" y="540.50" width="1.30" height="5.00" fill="#1b386f"/>
<rect x="285.15" y="542.50" width="1.30" height="5.00" fill="#1b386f"/>
<rect x="287.35" y="542.50" width="1.30" height="5.00" fill="#1b386f"/>
<rect x="294.45" y="542.50" width="1.30" height="5.00" fill="#1b386f"/>
<rect x="314.25" y="544.10" width="1.30" height="5.00" fill="#1b386f"/>
<rect x="318.00" y="544.10" width="3.00" height="5.00" fill="#1b386f"/>
<rect x="323.15" y="544.10" width="1.30" height="5.00" fill="#1b386f"/>
<rect x="324.75" y="544.10" width="1.30" height="5.00" fill="#1b386f"/>
<rect x="330.15" y="544.10" width="1.30" height="5.00" fill="#1b386f"/>
<rect x="333.65" y="544.10" width="1.30" height="5.00" fill="#1b386f"/>
<rect x="338.25" y="544.10" width="1.30" height="5.00" fill="#1b386f"/>
<rect x="344.75" y="544.10" width="1.30" height="5.00" fill="#1b386f"/>
<rect x="349.85" y="544.10" width="1.30" height="5.00" fill="#1b386f"/>
<rect x="358.40" y="544.10" width="2.60" height="5.00" fill="#1b386f"/>
<rect x="365.60" y="544.10" width="2.60" height="5.00" fill="#1b386f"/>
<rect x="370.85" y="544.10" width="1.30" height="5.00" fill="#1b386f"/>
<rect x="373.55" y="544.10" width="1.30" height="5.00" fill="#1b386f"/>
<rect x="377.05" y="544.10" width="1.30" height="5.00" fill="#1b386f"/>
<rect x="378.55" y="544.10" width="1.30" height="5.00" fill="#1b386f"/>
<rect x="391.95" y="544.10" width="1.30" height="5.00" fill="#1b386f"/>
<rect x="393.55" y="544.10" width="1.30" height="5.00" fill="#1b386f"/>
<rect x="407.85" y="544.10" width="1.30" height="5.00" fill="#1b386f"/>
<rect x="410.15" y="544.10" width="1.30" height="5.00" fill="#1b386f"/>
<rect x="412.05" y="544.10" width="1.30" height="5.00" fill="#1b386f"/>
<rect x="413.95" y="544.10" width="1.30" height="5.00" fill="#1b386f"/>
<rect x="418.40" y="544.10" width="2.40" height="5.00" fill="#1b386f"/>
<rect x="421.65" y="549.30" width="1.30" height="5.00" fill="#1b386f"/>
<rect x="423.15" y="549.30" width="1.30" height="5.00" fill="#1b386f"/>
<rect x="425.15" y="549.30" width="1.30" height="5.00" fill="#1b386f"/>
<rect x="427.05" y="549.30" width="1.30" height="5.00" fill="#1b386f"/>
<rect x="428.55" y="549.30" width="1.30" height="5.00" fill="#1b386f"/>
<rect x="430.85" y="549.30" width="1.30" height="5.00" fill="#1b386f"/>
<rect x="432.85" y="549.30" width="1.30" height="5.00" fill="#1b386f"/>
<rect x="436.25" y="549.30" width="1.30" height="5.00" fill="#1b386f"/>
<rect x="437.85" y="549.30" width="1.30" height="5.00" fill="#1b386f"/>
<rect x="443.95" y="549.30" width="1.30" height="5.00" fill="#1b386f"/>
<rect x="447.35" y="549.30" width="1.30" height="5.00" fill="#1b386f"/>
<rect x="451.35" y="549.30" width="1.30" height="5.00" fill="#1b386f"/>
<rect x="460.85" y="549.30" width="1.30" height="5.00" fill="#1b386f"/>
<rect x="465.15" y="549.30" width="1.30" height="5.00" fill="#1b386f"/>
<rect x="467.35" y="549.30" width="1.30" height="5.00" fill="#1b386f"/>
<rect x="470.55" y="549.30" width="1.30" height="5.00" fill="#1b386f"/>
<rect x="472.85" y="549.30" width="1.30" height="5.00" fill="#1b386f"/>
<rect x="475.65" y="549.30" width="1.30" height="5.00" fill="#1b386f"/>
<rect x="496.85" y="549.30" width="1.30" height="5.00" fill="#1b386f"/>
<rect x="503.15" y="549.30" width="1.30" height="5.00" fill="#1b386f"/>
<text x="414.20" y="668.00" font-size="8.7" text-anchor="start" fill="#222" textLength="51.5" lengthAdjust="spacingAndGlyphs">36-month OS</text>
<text x="470.80" y="668.00" font-size="8.7" text-anchor="start" fill="#222" textLength="27.2" lengthAdjust="spacingAndGlyphs">95% CI</text>
<text x="369.30" y="679.60" font-size="8.7" text-anchor="middle" fill="#222">N</text>
<text x="392.60" y="679.60" font-size="8.7" text-anchor="middle" fill="#222" textLength="25.2" lengthAdjust="spacingAndGlyphs">Events</text>
<text x="440.80" y="679.60" font-size="8.7" text-anchor="middle" fill="#222">(%)</text>
<text x="484.60" y="679.60" font-size="8.7" text-anchor="middle" fill="#222">(%)</text>
<line x1="360.30" y1="683.50" x2="503.00" y2="683.50" stroke="#222" stroke-width="1.3"/>
<line x1="284.20" y1="695.50" x2="309.50" y2="695.50" stroke="#1b386f" stroke-width="1.6"/>
<line x1="296.60" y1="693.00" x2="296.60" y2="698.00" stroke="#1b386f" stroke-width="1.2"/>
<text x="312.30" y="698.20" font-size="8.7" text-anchor="start" fill="#222" textLength="43.9" lengthAdjust="spacingAndGlyphs">All patients</text>
<text x="369.30" y="698.20" font-size="8.7" text-anchor="middle" fill="#222">91</text>
<text x="392.80" y="698.20" font-size="8.7" text-anchor="middle" fill="#222">7</text>
<text x="440.30" y="698.20" font-size="8.7" text-anchor="middle" fill="#222">93</text>
<text x="484.60" y="698.20" font-size="8.7" text-anchor="middle" fill="#222">(–, –)</text>
<text x="18.30" y="747.10" font-size="6.1" text-anchor="start" font-weight="bold" fill="#000" textLength="52" lengthAdjust="spacingAndGlyphs">N at Risk (Events)</text>
<text x="18.30" y="757.40" font-size="6.1" text-anchor="start" fill="#000" textLength="31.5" lengthAdjust="spacingAndGlyphs">All patients</text>
<text x="80.80" y="757.40" font-size="6.0" text-anchor="middle" fill="#000">91(0)</text>
<text x="96.51" y="757.40" font-size="6.0" text-anchor="middle" fill="#000">91(0)</text>
<text x="112.22" y="757.40" font-size="6.0" text-anchor="middle" fill="#000">91(0)</text>
<text x="127.93" y="757.40" font-size="6.0" text-anchor="middle" fill="#000">91(0)</text>
<text x="143.64" y="757.40" font-size="6.0" text-anchor="middle" fill="#000">90(0)</text>
<text x="159.36" y="757.40" font-size="6.0" text-anchor="middle" fill="#000">89(1)</text>
<text x="175.07" y="757.40" font-size="6.0" text-anchor="middle" fill="#000">87(3)</text>
<text x="190.78" y="757.40" font-size="6.0" text-anchor="middle" fill="#000">86(3)</text>
<text x="206.49" y="757.40" font-size="6.0" text-anchor="middle" fill="#000">86(3)</text>
<text x="222.20" y="757.40" font-size="6.0" text-anchor="middle" fill="#000">84(4)</text>
<text x="237.91" y="757.40" font-size="6.0" text-anchor="middle" fill="#000">83(4)</text>
<text x="253.62" y="757.40" font-size="6.0" text-anchor="middle" fill="#000">83(4)</text>
<text x="269.33" y="757.40" font-size="6.0" text-anchor="middle" fill="#000">81(5)</text>
<text x="285.04" y="757.40" font-size="6.0" text-anchor="middle" fill="#000">78(5)</text>
<text x="300.76" y="757.40" font-size="6.0" text-anchor="middle" fill="#000">75(6)</text>
<text x="316.47" y="757.40" font-size="6.0" text-anchor="middle" fill="#000">63(6)</text>
<text x="332.18" y="757.40" font-size="6.0" text-anchor="middle" fill="#000">60(6)</text>
<text x="347.89" y="757.40" font-size="6.0" text-anchor="middle" fill="#000">55(6)</text>
<text x="363.60" y="757.40" font-size="6.0" text-anchor="middle" fill="#000">47(6)</text>
<text x="379.31" y="757.40" font-size="6.0" text-anchor="middle" fill="#000">45(6)</text>
<text x="395.02" y="757.40" font-size="6.0" text-anchor="middle" fill="#000">34(6)</text>
<text x="410.73" y="757.40" font-size="6.0" text-anchor="middle" fill="#000">34(6)</text>
<text x="426.44" y="757.40" font-size="6.0" text-anchor="middle" fill="#000">14(7)</text>
<text x="442.16" y="757.40" font-size="6.0" text-anchor="middle" fill="#000">14(7)</text>
<text x="457.87" y="757.40" font-size="6.0" text-anchor="middle" fill="#000">10(7)</text>
<text x="473.58" y="757.40" font-size="6.0" text-anchor="middle" fill="#000">6(7)</text>
<text x="489.29" y="757.40" font-size="6.0" text-anchor="middle" fill="#000">2(7)</text>
<text x="505.00" y="757.40" font-size="6.0" text-anchor="middle" fill="#000">0(7)</text>
<rect x="0.9" y="0.9" width="518.2" height="765.2" fill="none" stroke="#000" stroke-width="1.9"/>
</svg>
</body></html>
